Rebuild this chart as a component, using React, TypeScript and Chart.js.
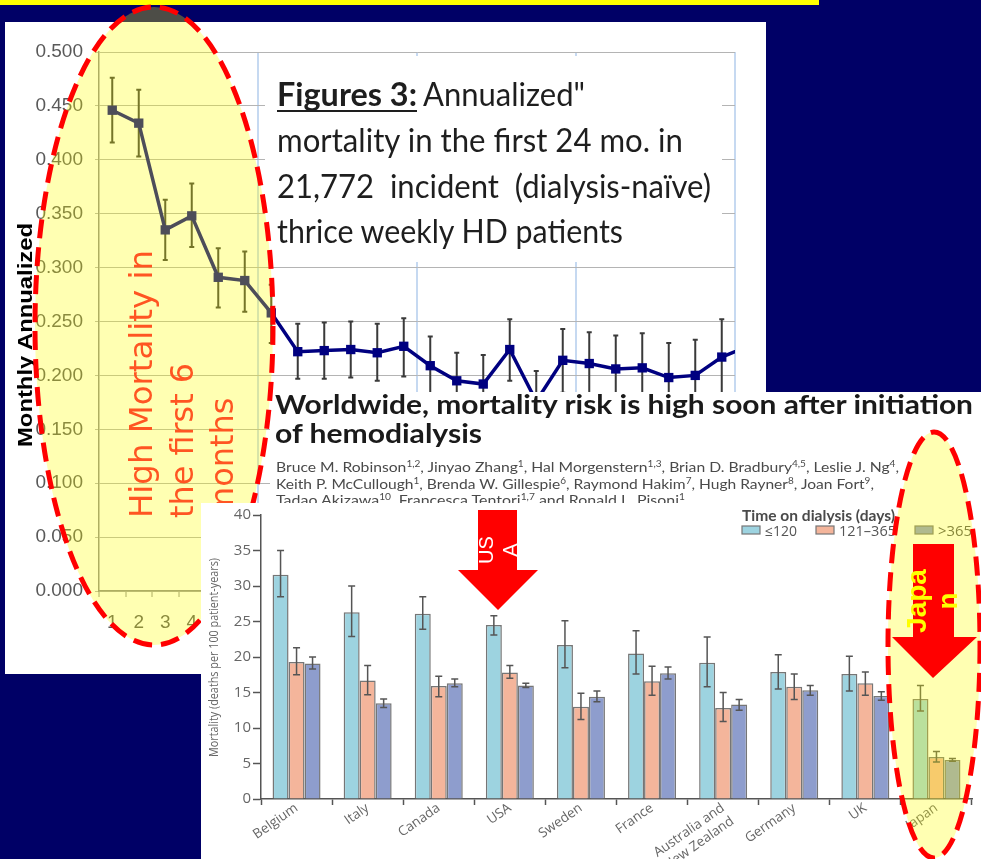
import React, { useEffect, useRef } from 'react';
import { Chart, registerables } from 'chart.js';

Chart.register(...registerables);

// ---------- colours ----------
const NAVY = '#000066';
const LINE_NAVY = '#000080';
const RED = '#ff0000';
const ELLIPSE_FILL = 'rgba(255,255,0,0.3)';
const LIGHT_BLUE_GRID = '#c6d9f1';
const C_UPTO120 = '#9dd3e0';
const C_121TO365 = '#f4b59b';
const C_OVER365 = '#8e9dcd';

// ---------- Figure 3 (line chart) data ----------
const months = [1, 2, 3, 4, 5, 6, 7, 8, 9, 10, 11, 12, 13, 14, 15, 16, 17, 18, 19, 20, 21, 22, 23, 24, 25];
const monthTickLabels = ['1', '2', '3', '4', '5', '6', '7', '8', '9', '10', '11', '12', '13', '14', '15', '16', '17', '18', '19', '20', '21', '22', '23', '24'];
const annualizedMortality = [0.446, 0.434, 0.335, 0.348, 0.291, 0.288, 0.258, 0.222, 0.223, 0.224, 0.221, 0.227, 0.209, 0.195, 0.192, 0.224, 0.176, 0.214, 0.211, 0.206, 0.207, 0.198, 0.2, 0.217, 0.227];
const mortalityHigh = [0.476, 0.465, 0.363, 0.378, 0.318, 0.315, 0.284, 0.248, 0.249, 0.25, 0.248, 0.253, 0.236, 0.221, 0.219, 0.252, 0.204, 0.243, 0.24, 0.237, 0.239, 0.23, 0.233, 0.252, 0.255];
const mortalityLow = [0.416, 0.403, 0.307, 0.319, 0.263, 0.259, 0.23, 0.197, 0.197, 0.198, 0.195, 0.199, 0.182, 0.169, 0.165, 0.195, 0.148, 0.184, 0.181, 0.175, 0.175, 0.166, 0.167, 0.183, 0.199];
const yMin = 0;
const yMax = 0.5;
const yStep = 0.05;

// ---------- Worldwide mortality (bar chart) data ----------
const countries: (string | string[])[] = ['Belgium', 'Italy', 'Canada', 'USA', 'Sweden', 'France', ['Australia and', 'New Zealand'], 'Germany', 'UK', 'Japan'];
const legendTitle = 'Time on dialysis (days)';
const legendLabels = ['≤120', '121–365', '>365'];
const mortalityUpTo120 = [31.6, 26.3, 26.1, 24.5, 21.7, 20.5, 19.2, 17.9, 17.6, 14.1];
const mortalityUpTo120Low = [28.5, 22.9, 23.9, 23.1, 18.5, 17.6, 15.8, 15.5, 15.2, 12.4];
const mortalityUpTo120High = [35.0, 30.0, 28.5, 25.8, 25.1, 23.7, 22.8, 20.3, 20.1, 16.0];
const mortality121to365 = [19.3, 16.7, 15.9, 17.8, 13.0, 16.6, 12.8, 15.8, 16.3, 5.9];
const mortality121to365Low = [17.5, 14.7, 14.4, 17.0, 11.2, 14.6, 10.9, 14.0, 14.6, 5.2];
const mortality121to365High = [21.3, 18.8, 17.3, 18.8, 14.9, 18.7, 15.0, 17.6, 17.9, 6.7];
const mortalityOver365 = [19.1, 13.5, 16.3, 16.0, 14.4, 17.7, 13.3, 15.3, 14.5, 5.5];
const mortalityOver365Low = [18.3, 12.9, 15.8, 15.7, 13.7, 16.9, 12.5, 14.6, 13.9, 5.3];
const mortalityOver365High = [20.0, 14.1, 16.9, 16.3, 15.2, 18.6, 14.0, 16.0, 15.1, 5.7];
const barYMax = 40;
const barYStep = 5;

// ---------- texts ----------
const boxLines = ['mortality in the first 24 mo. in', '21,772  incident  (dialysis-naïve)', 'thrice weekly HD patients'];
const articleTitle = ['Worldwide, mortality risk is high soon after initiation', 'of hemodialysis'];
type Part = [string, boolean];
const authorLines: Part[][] = [
  [['Bruce M. Robinson', false], ['1,2', true], [', Jinyao Zhang', false], ['1', true], [', Hal Morgenstern', false], ['1,3', true], [', Brian D. Bradbury', false], ['4,5', true], [', Leslie J. Ng', false], ['4', true], [',', false]],
  [['Keith P. McCullough', false], ['1', true], [', Brenda W. Gillespie', false], ['6', true], [', Raymond Hakim', false], ['7', true], [', Hugh Rayner', false], ['8', true], [', Joan Fort', false], ['9', true], [',', false]],
  [['Tadao Akizawa', false], ['10', true], [', Francesca Tentori', false], ['1,7', true], [' and Ronald L. Pisoni', false], ['1', true]],
];
const highlightLines = ['High Mortality in', 'the first 6', 'months'];

function LineChart() {
  const ref = useRef<HTMLCanvasElement>(null);
  useEffect(() => {
    const errPlugin = {
      id: 'lineErrorBars',
      beforeDatasetsDraw(chart: any) {
        const { ctx, chartArea } = chart;
        const xs = chart.scales.x;
        const ys = chart.scales.y;
        ctx.save();
        ctx.beginPath();
        ctx.rect(chartArea.left, chartArea.top, chartArea.right - chartArea.left, chartArea.bottom - chartArea.top);
        ctx.clip();
        ctx.strokeStyle = '#3a3a3a';
        ctx.lineWidth = 2;
        months.forEach((m, i) => {
          const x = xs.getPixelForValue(m);
          const y1 = ys.getPixelForValue(mortalityLow[i]);
          const y2 = ys.getPixelForValue(mortalityHigh[i]);
          ctx.beginPath();
          ctx.moveTo(x, y1);
          ctx.lineTo(x, y2);
          ctx.moveTo(x - 2.5, y1);
          ctx.lineTo(x + 2.5, y1);
          ctx.moveTo(x - 2.5, y2);
          ctx.lineTo(x + 2.5, y2);
          ctx.stroke();
        });
        ctx.restore();
      },
    };
    const chart = new Chart(ref.current as HTMLCanvasElement, {
      type: 'line',
      data: {
        datasets: [
          {
            data: months.map((m, i) => ({ x: m, y: annualizedMortality[i] })),
            borderColor: LINE_NAVY,
            backgroundColor: LINE_NAVY,
            borderWidth: 3.5,
            pointStyle: 'rect',
            pointRadius: 6.6,
            pointBorderWidth: 0,
            pointBackgroundColor: LINE_NAVY,
            tension: 0,
          },
        ],
      },
      options: {
        animation: false,
        responsive: false,
        layout: { padding: { left: 0, top: 30, right: 31, bottom: 0 } },
        plugins: { legend: { display: false }, tooltip: { enabled: false } },
        scales: {
          x: {
            type: 'linear',
            min: 0.5,
            max: 24.5,
            afterBuildTicks: (s: any) => {
              s.ticks = monthTickLabels.map((v) => ({ value: Number(v) }));
            },
            afterFit: (s: any) => {
              s.height = 83;
            },
            ticks: {
              autoSkip: false,
              maxRotation: 0,
              minRotation: 0,
              padding: 14,
              color: '#595959',
              font: { family: 'Liberation Sans', size: 19 },
              callback: (v: any) => String(v),
            },
            grid: {
              offset: true,
              color: (c: any) => (c.index === undefined || c.index === 6 || c.index === 12 || c.index === 18 ? LIGHT_BLUE_GRID : 'rgba(0,0,0,0)'),
              lineWidth: 2,
              tickLength: 6,
              tickColor: '#8c8c8c',
              tickWidth: 1,
            },
            border: { color: '#8c8c8c', width: 1.5 },
          },
          y: {
            min: yMin,
            max: yMax,
            afterFit: (s: any) => {
              s.width = 94;
            },
            ticks: {
              stepSize: yStep,
              padding: 12,
              color: '#595959',
              font: { family: 'Liberation Sans', size: 19 },
              callback: (v: any) => Number(v).toFixed(3),
            },
            grid: { color: '#b4b4b4', lineWidth: 1, tickLength: 4 },
            border: { color: '#8c8c8c', width: 1.5 },
          },
        },
      } as any,
      plugins: [errPlugin],
    });
    return () => chart.destroy();
  }, []);
  return <canvas ref={ref} width={761} height={652} style={{ position: 'absolute', left: 5, top: 22, width: 761, height: 652 }} />;
}

function BarChart() {
  const ref = useRef<HTMLCanvasElement>(null);
  useEffect(() => {
    const errPlugin = {
      id: 'barErrorBars',
      afterDatasetsDraw(chart: any) {
        const { ctx } = chart;
        const ys = chart.scales.y;
        ctx.save();
        ctx.strokeStyle = '#555';
        ctx.lineWidth = 1.5;
        chart.data.datasets.forEach((ds: any, d: number) => {
          const meta = chart.getDatasetMeta(d);
          meta.data.forEach((el: any, i: number) => {
            const x = el.x;
            const y1 = ys.getPixelForValue(ds.errLow[i]);
            const y2 = ys.getPixelForValue(ds.errHigh[i]);
            ctx.beginPath();
            ctx.moveTo(x, y1);
            ctx.lineTo(x, y2);
            ctx.moveTo(x - 3.5, y1);
            ctx.lineTo(x + 3.5, y1);
            ctx.moveTo(x - 3.5, y2);
            ctx.lineTo(x + 3.5, y2);
            ctx.stroke();
          });
        });
        ctx.restore();
      },
    };
    const common = { borderColor: '#767676', borderWidth: 1.5, barPercentage: 1, categoryPercentage: 0.675 };
    const chart = new Chart(ref.current as HTMLCanvasElement, {
      type: 'bar',
      data: {
        labels: countries,
        datasets: [
          { label: legendLabels[0], data: mortalityUpTo120, backgroundColor: C_UPTO120, errLow: mortalityUpTo120Low, errHigh: mortalityUpTo120High, ...common },
          { label: legendLabels[1], data: mortality121to365, backgroundColor: C_121TO365, errLow: mortality121to365Low, errHigh: mortality121to365High, ...common },
          { label: legendLabels[2], data: mortalityOver365, backgroundColor: C_OVER365, errLow: mortalityOver365Low, errHigh: mortalityOver365High, ...common },
        ] as any,
      },
      options: {
        animation: false,
        responsive: false,
        layout: { padding: { left: 0, top: 12, right: 9, bottom: 0 } },
        plugins: { legend: { display: false }, tooltip: { enabled: false } },
        scales: {
          x: {
            afterFit: (s: any) => {
              s.height = 60;
            },
            ticks: {
              autoSkip: false,
              minRotation: 35,
              maxRotation: 35,
              padding: -5,
              color: '#666',
              font: { family: 'Open Sans', size: 13.5 },
            },
            grid: { offset: true, drawOnChartArea: false, tickLength: 6, tickColor: '#555', tickWidth: 1.5 },
            border: { color: '#555', width: 1.5 },
          },
          y: {
            min: 0,
            max: barYMax,
            afterFit: (s: any) => {
              s.width = 60;
            },
            ticks: { stepSize: barYStep, padding: 2, color: '#666', font: { family: 'Open Sans', size: 15 } },
            grid: { drawOnChartArea: false, tickLength: 8, tickColor: '#555', tickWidth: 1.5 },
            border: { color: '#555', width: 1.5 },
          },
        },
      } as any,
      plugins: [errPlugin],
    });
    return () => chart.destroy();
  }, []);
  return <canvas ref={ref} width={780} height={356} style={{ position: 'absolute', left: 201, top: 503, width: 780, height: 356 }} />;
}

function arrowPoints(sl: number, sr: number, top: number, headY: number, hl: number, hr: number, tipX: number, tipY: number) {
  return `${sl},${top} ${sr},${top} ${sr},${headY} ${hr},${headY} ${tipX},${tipY} ${hl},${headY} ${sl},${headY}`;
}

function renderParts(parts: Part[]) {
  const out: any[] = [];
  let prevSup = false;
  parts.forEach(([t, sup], i) => {
    if (sup) {
      out.push(<tspan key={i} dy={-5} fontSize={9}>{t}</tspan>);
    } else {
      out.push(<tspan key={i} dy={prevSup ? 5 : 0}>{t}</tspan>);
    }
    prevSup = sup;
  });
  return out;
}

export default function App() {
  useEffect(() => {
    document.body.style.margin = '0';
    document.documentElement.style.overflow = 'hidden';
  }, []);
  const svgStyle: React.CSSProperties = { position: 'absolute', left: 0, top: 0, overflow: 'visible' };
  return (
    <div style={{ position: 'absolute', left: 0, top: 0, width: 981, height: 859, background: NAVY, overflow: 'hidden' }}>
      <div style={{ position: 'absolute', left: 0, top: 0, width: 819, height: 5, background: '#ffff00' }} />
      <div style={{ position: 'absolute', left: 5, top: 22, width: 761, height: 652, background: '#fff' }} />
      <LineChart />
      <svg width={981} height={859} style={svgStyle}>
        {/* y-axis title of the line chart */}
        <text transform="translate(31.5,335) rotate(-90)" textAnchor="middle" fontFamily="Liberation Sans" fontWeight="bold" fontSize={20} fill="#000" textLength={224} lengthAdjust="spacingAndGlyphs">
          Monthly Annualized
        </text>
        {/* caption box */}
        <rect x={265} y={56} width={457} height={206} fill="#fff" />
        <text x={277} y={106} fontFamily="Lato" fontWeight="bold" fontSize={33} fill="#1e1e1e" textLength={140} lengthAdjust="spacingAndGlyphs">Figures 3:</text>
        <line x1={277} y1={111} x2={417} y2={111} stroke="#1e1e1e" strokeWidth={2} />
        <text x={423} y={106} fontFamily="Lato" fontSize={33} fill="#1e1e1e" textLength={162} lengthAdjust="spacingAndGlyphs">Annualized"</text>
        <text x={277} y={152} fontFamily="Lato" fontSize={33} fill="#1e1e1e" textLength={406} lengthAdjust="spacingAndGlyphs">{boxLines[0]}</text>
        <text x={277} y={198} fontFamily="Lato" fontSize={33} fill="#1e1e1e" textLength={434} lengthAdjust="spacingAndGlyphs" style={{ whiteSpace: 'pre' }}>{boxLines[1]}</text>
        <text x={277} y={243} fontFamily="Lato" fontSize={33} fill="#1e1e1e" textLength={346} lengthAdjust="spacingAndGlyphs">{boxLines[2]}</text>
        {/* article header panel */}
        <rect x={270} y={392} width={711} height={113} fill="#fff" />
        <text x={275} y={414} fontFamily="Lato" fontWeight="bold" fontSize={27} fill="#1a1a1a" textLength={698} lengthAdjust="spacingAndGlyphs">{articleTitle[0]}</text>
        <text x={275} y={443} fontFamily="Lato" fontWeight="bold" fontSize={27} fill="#1a1a1a" textLength={207} lengthAdjust="spacingAndGlyphs">{articleTitle[1]}</text>
        {authorLines.map((parts, i) => (
          <text key={i} x={276} y={472 + i * 16.5} fontFamily="Lato" fontSize={14} fill="#4a4a4a" textLength={[623, 598, 409][i]} lengthAdjust="spacingAndGlyphs" style={{ whiteSpace: 'pre' }}>
            {renderParts(parts)}
          </text>
        ))}
        {/* left highlight ellipse */}
        <ellipse cx={154} cy={326} rx={119} ry={319} fill={ELLIPSE_FILL} stroke={RED} strokeWidth={5} strokeDasharray="19 9" />
        <text transform="translate(152,518) rotate(-90)" fontFamily="DejaVu Sans" fontSize={32} fill="#ff5522" textLength={268} lengthAdjust="spacingAndGlyphs">{highlightLines[0]}</text>
        <text transform="translate(193,518) rotate(-90)" fontFamily="DejaVu Sans" fontSize={32} fill="#ff5522" textLength={155} lengthAdjust="spacingAndGlyphs">{highlightLines[1]}</text>
        <text transform="translate(233,518) rotate(-90)" fontFamily="DejaVu Sans" fontSize={32} fill="#ff5522">{highlightLines[2]}</text>
      </svg>
      <div style={{ position: 'absolute', left: 201, top: 503, width: 780, height: 356, background: '#fff' }} />
      <BarChart />
      <svg width={981} height={859} style={svgStyle}>
        {/* bar chart y title */}
        <text transform="translate(218,657.5) rotate(-90)" textAnchor="middle" fontFamily="Open Sans" fontSize={13} fill="#666" textLength={199} lengthAdjust="spacingAndGlyphs">
          Mortality (deaths per 100 patient-years)
        </text>
        {/* legend */}
        <text x={742} y={521} fontFamily="Lato" fontWeight="bold" fontSize={14.5} fill="#4a4a4a" textLength={153} lengthAdjust="spacingAndGlyphs">{legendTitle}</text>
        <rect x={742} y={526} width={18} height={8} fill={C_UPTO120} stroke="#767676" strokeWidth={1.2} />
        <text x={765} y={535.5} fontFamily="Open Sans" fontSize={14} fill="#555" textLength={32} lengthAdjust="spacingAndGlyphs">{legendLabels[0]}</text>
        <rect x={816} y={526} width={18} height={8} fill={C_121TO365} stroke="#767676" strokeWidth={1.2} />
        <text x={839} y={535.5} fontFamily="Open Sans" fontSize={14} fill="#555" textLength={57} lengthAdjust="spacingAndGlyphs">{legendLabels[1]}</text>
        <rect x={915} y={526} width={18} height={8} fill={C_OVER365} stroke="#767676" strokeWidth={1.2} />
        <text x={938} y={535.5} fontFamily="Open Sans" fontSize={14} fill="#555" textLength={34} lengthAdjust="spacingAndGlyphs">{legendLabels[2]}</text>
        {/* USA arrow */}
        <polygon points={arrowPoints(478, 517, 510, 570, 458, 538, 498, 610)} fill={RED} />
        <text transform="translate(493,550) rotate(-90)" textAnchor="middle" fontFamily="Liberation Sans" fontSize={20} fill="#fff">US</text>
        <text transform="translate(517,550) rotate(-90)" textAnchor="middle" fontFamily="Liberation Sans" fontSize={20} fill="#fff">A</text>
        {/* right highlight ellipse */}
        <ellipse cx={934} cy={645} rx={46} ry={213} fill={ELLIPSE_FILL} stroke={RED} strokeWidth={5} strokeDasharray="19 9" />
        {/* Japan arrow */}
        <polygon points={arrowPoints(913, 954, 544, 637, 892, 977, 933, 678)} fill={RED} />
        <text transform="translate(926,601) rotate(-90)" textAnchor="middle" fontFamily="Liberation Sans" fontWeight="bold" fontSize={28} fill="#ffff00">Japa</text>
        <text transform="translate(957,601) rotate(-90)" textAnchor="middle" fontFamily="Liberation Sans" fontWeight="bold" fontSize={28} fill="#ffff00">n</text>
      </svg>
    </div>
  );
}
